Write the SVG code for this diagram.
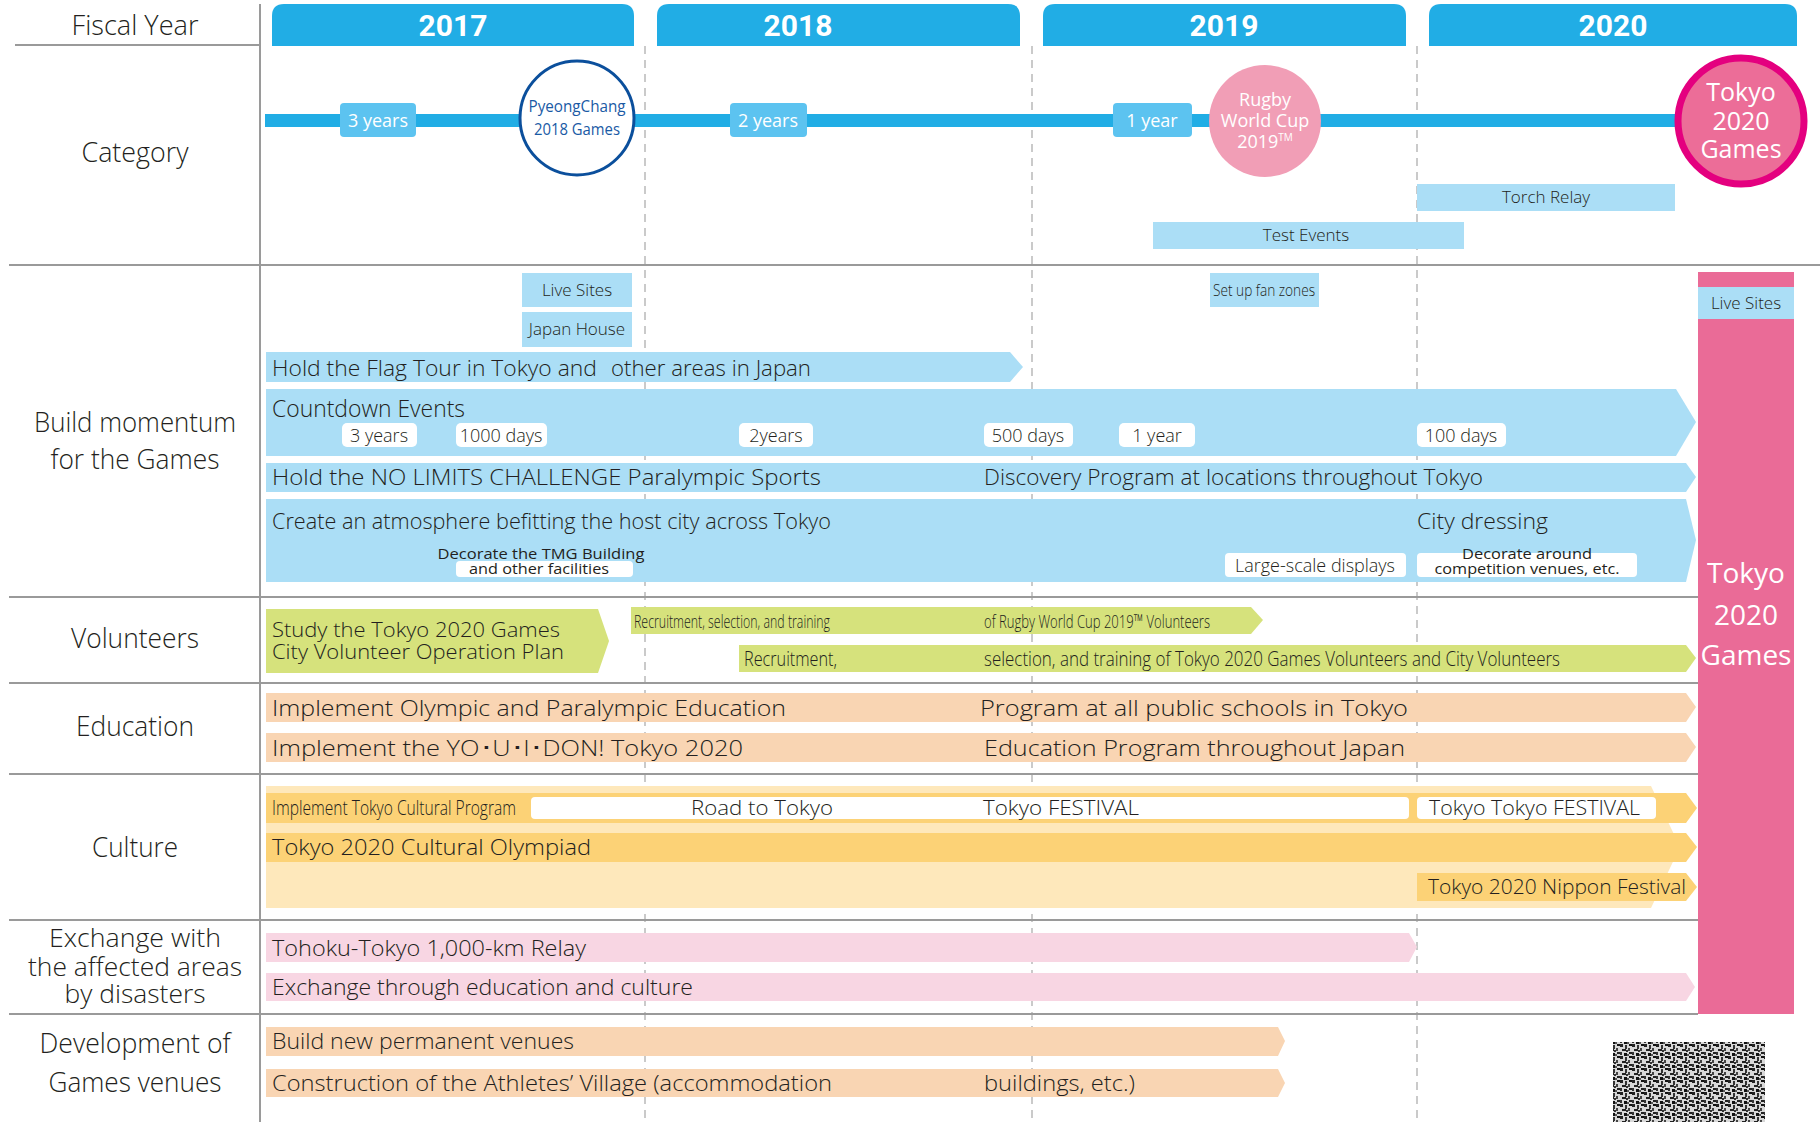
<svg xmlns="http://www.w3.org/2000/svg" width="1820" height="1122" viewBox="0 0 1820 1122">
<style>
.t{font-family:"Open Sans","Noto Sans",sans-serif;font-weight:300;fill:#231f20}
.cat{font-size:27px;text-anchor:middle}
.bar{font-size:22px}
.sm{font-size:17px}
.lab{font-size:18px;text-anchor:middle}
.mid{text-anchor:middle}
.rg{font-weight:400}
.yr{font-family:Roboto,"Liberation Sans",sans-serif;font-weight:bold;font-size:30px;fill:#fff;text-anchor:middle}
.tab{fill:#21ade5}
.lb{fill:#abdef6}
.gr{fill:#d6e27c}
.pe{fill:#f9d5b3}
.cu{fill:#fcd276}
.cl{fill:#fee8bb}
.pk{fill:#f8d6e3}
.wb{fill:#fff}
.sep{stroke:#9a9a9a;stroke-width:2;fill:none}
.dash{stroke:#bdbdbd;stroke-width:1.6;stroke-dasharray:8 6;fill:none}
.yl{fill:#5cc3f0}
.wt{fill:#fff}
</style>
<defs>
<pattern id="qr" width="12" height="12" patternUnits="userSpaceOnUse">
<rect width="12" height="12" fill="#d8d8d8"/>
<rect x="0" y="0" width="3" height="3" fill="#222"/>
<rect x="5" y="1" width="2" height="4" fill="#333"/>
<rect x="9" y="0" width="3" height="2" fill="#111"/>
<rect x="2" y="5" width="4" height="2" fill="#222"/>
<rect x="8" y="4" width="2" height="3" fill="#444"/>
<rect x="0" y="8" width="2" height="3" fill="#333"/>
<rect x="4" y="9" width="3" height="3" fill="#111"/>
<rect x="9" y="8" width="3" height="2" fill="#222"/>
<rect x="7" y="10" width="2" height="2" fill="#555"/>
<rect x="6" y="6" width="2" height="2" fill="#333"/>
</pattern>
</defs>
<rect width="1820" height="1122" fill="#fff"/>

<g id="grid">
<line class="dash" x1="645" y1="46" x2="645" y2="1122"/>
<line class="dash" x1="1032" y1="46" x2="1032" y2="1122"/>
<line class="dash" x1="1417" y1="46" x2="1417" y2="1122"/>
<line class="sep" x1="260" y1="4" x2="260" y2="1122"/>
<line class="sep" x1="15" y1="45" x2="260" y2="45"/>
<line class="sep" x1="9" y1="265" x2="1820" y2="265"/>
<line class="sep" x1="9" y1="597" x2="1698" y2="597"/>
<line class="sep" x1="9" y1="683" x2="1698" y2="683"/>
<line class="sep" x1="9" y1="774" x2="1698" y2="774"/>
<line class="sep" x1="9" y1="920" x2="1698" y2="920"/>
<line class="sep" x1="9" y1="1014" x2="1698" y2="1014"/>
</g>

<g id="labels">
<text class="t cat" x="135" y="35" textLength="127" lengthAdjust="spacingAndGlyphs">Fiscal Year</text>
<text class="t cat" x="135" y="162" textLength="107" lengthAdjust="spacingAndGlyphs">Category</text>
<text class="t cat" x="135" y="432" textLength="202" lengthAdjust="spacingAndGlyphs">Build momentum</text>
<text class="t cat" x="135" y="469" textLength="169" lengthAdjust="spacingAndGlyphs">for the Games</text>
<text class="t cat" x="135" y="648" textLength="128" lengthAdjust="spacingAndGlyphs">Volunteers</text>
<text class="t cat" x="135" y="736" textLength="118" lengthAdjust="spacingAndGlyphs">Education</text>
<text class="t cat" x="135" y="857" textLength="86" lengthAdjust="spacingAndGlyphs">Culture</text>
<text class="t cat" x="135" y="947" style="font-size:25px" textLength="172" lengthAdjust="spacingAndGlyphs">Exchange with</text>
<text class="t cat" x="135" y="976" style="font-size:25px" textLength="214" lengthAdjust="spacingAndGlyphs">the affected areas</text>
<text class="t cat" x="135" y="1003" style="font-size:25px" textLength="141" lengthAdjust="spacingAndGlyphs">by disasters</text>
<text class="t cat" x="135" y="1053" textLength="191" lengthAdjust="spacingAndGlyphs">Development of</text>
<text class="t cat" x="135" y="1092" textLength="173" lengthAdjust="spacingAndGlyphs">Games venues</text>
</g>

<g id="year-2017"><path class="tab" d="M272 46V16Q272 4 284 4H622Q634 4 634 16V46Z"/><text class="yr" x="453" y="36">2017</text></g>
<g id="year-2018"><path class="tab" d="M657 46V16Q657 4 669 4H1008Q1020 4 1020 16V46Z"/><text class="yr" x="798" y="36">2018</text></g>
<g id="year-2019"><path class="tab" d="M1043 46V16Q1043 4 1055 4H1394Q1406 4 1406 16V46Z"/><text class="yr" x="1224" y="36">2019</text></g>
<g id="year-2020"><path class="tab" d="M1429 46V16Q1429 4 1441 4H1785Q1797 4 1797 16V46Z"/><text class="yr" x="1613" y="36">2020</text></g>

<g id="connectors">
<rect x="265" y="114" width="1420" height="13" fill="#21ade5"/>
</g>

<g id="mark-3years"><rect class="yl" x="340" y="103" width="76" height="34" rx="4"/><text class="t wt lab rg" x="378" y="127">3 years</text></g>
<g id="mark-2years"><rect class="yl" x="730" y="103" width="77" height="34" rx="4"/><text class="t wt lab rg" x="768" y="127">2 years</text></g>
<g id="mark-1year"><rect class="yl" x="1113" y="103" width="79" height="34" rx="4"/><text class="t wt lab rg" x="1152" y="127">1 year</text></g>

<g id="pyeongchang">
<circle cx="577" cy="118" r="57" fill="#fff" stroke="#0b4f9c" stroke-width="3"/>
<text class="t mid rg" x="577" y="112" style="font-size:16px;fill:#1a5aa5" textLength="97" lengthAdjust="spacingAndGlyphs">PyeongChang</text>
<text class="t mid rg" x="577" y="135" style="font-size:16px;fill:#1a5aa5" textLength="86" lengthAdjust="spacingAndGlyphs">2018 Games</text>
</g>
<g id="rugby">
<circle cx="1265" cy="121" r="56" fill="#f19eb6"/>
<text class="t mid wt rg" x="1265" y="106" style="font-size:18px">Rugby</text>
<text class="t mid wt rg" x="1265" y="127" style="font-size:18px">World Cup</text>
<text class="t mid wt rg" x="1265" y="148" style="font-size:18px">2019<tspan style="font-size:10px" dy="-7">TM</tspan></text>
</g>
<g id="tokyo-games-circle">
<circle cx="1741" cy="121" r="63" fill="#ec6d98" stroke="#e4007f" stroke-width="7"/>
<text class="t mid wt rg" x="1741" y="101" style="font-size:25px">Tokyo</text>
<text class="t mid wt rg" x="1741" y="130" style="font-size:25px">2020</text>
<text class="t mid wt rg" x="1741" y="158" style="font-size:25px">Games</text>
</g>

<g id="torch-relay"><rect class="lb" x="1417" y="184" width="258" height="27"/><text class="t sm mid" x="1546" y="203">Torch Relay</text></g>
<g id="test-events"><rect class="lb" x="1153" y="222" width="311" height="27"/><text class="t sm mid" x="1306" y="241">Test Events</text></g>

<g id="live-sites-2017"><rect class="lb" x="522" y="273" width="110" height="34"/><text class="t sm mid" x="577" y="296">Live Sites</text></g>
<g id="japan-house"><rect class="lb" x="522" y="312" width="110" height="35"/><text class="t sm mid" x="577" y="335">Japan House</text></g>
<g id="fan-zones"><rect class="lb" x="1210" y="273" width="109" height="34"/><text class="t sm mid" x="1264" y="296" textLength="102" lengthAdjust="spacingAndGlyphs">Set up fan zones</text></g>

<g id="flag-tour">
<path class="lb" d="M266 352H1010L1023 367L1010 382H266Z"/>
<text class="t bar" x="272" y="376" textLength="325" lengthAdjust="spacingAndGlyphs">Hold the Flag Tour  in Tokyo and</text>
<text class="t bar" x="611" y="376" textLength="200" lengthAdjust="spacingAndGlyphs">other areas in Japan</text>
</g>

<g id="countdown">
<path class="lb" d="M266 389H1676L1696 422L1676 456H266Z"/>
<text class="t" x="272" y="417" style="font-size:23px" textLength="193" lengthAdjust="spacingAndGlyphs">Countdown Events</text>
<rect class="wb" x="342" y="423" width="75" height="24" rx="5"/><text class="t lab" x="379" y="442">3 years</text>
<rect class="wb" x="456" y="423" width="91" height="24" rx="5"/><text class="t lab" x="501" y="442">1000 days</text>
<rect class="wb" x="739" y="423" width="74" height="24" rx="5"/><text class="t lab" x="776" y="442">2years</text>
<rect class="wb" x="984" y="423" width="89" height="24" rx="5"/><text class="t lab" x="1028" y="442">500 days</text>
<rect class="wb" x="1119" y="423" width="76" height="24" rx="5"/><text class="t lab" x="1157" y="442">1 year</text>
<rect class="wb" x="1417" y="423" width="89" height="24" rx="5"/><text class="t lab" x="1461" y="442">100 days</text>
</g>

<g id="no-limits">
<path class="lb" d="M266 463H1686L1696 477L1686 492H266Z"/>
<text class="t bar" x="272" y="485" textLength="549" lengthAdjust="spacingAndGlyphs">Hold the NO LIMITS CHALLENGE Paralympic Sports</text>
<text class="t bar" x="984" y="485" textLength="499" lengthAdjust="spacingAndGlyphs">Discovery Program at locations throughout Tokyo</text>
</g>

<g id="atmosphere">
<path class="lb" d="M266 499H1686L1696 540L1686 582H266Z"/>
<text class="t bar" x="272" y="529" textLength="559" lengthAdjust="spacingAndGlyphs">Create an atmosphere befitting the host city across Tokyo</text>
<text class="t bar" x="1417" y="529" textLength="131" lengthAdjust="spacingAndGlyphs">City dressing</text>
<rect class="wb" x="456" y="561" width="177" height="16" rx="4"/>
<text class="t mid rg" x="541" y="559" style="font-size:14px" textLength="207" lengthAdjust="spacingAndGlyphs">Decorate the TMG Building</text>
<text class="t mid rg" x="539" y="574" style="font-size:14px" textLength="140" lengthAdjust="spacingAndGlyphs">and other facilities</text>
<rect class="wb" x="1225" y="553" width="181" height="24" rx="4"/>
<text class="t mid" x="1315" y="572" style="font-size:18px">Large-scale displays</text>
<rect class="wb" x="1417" y="553" width="220" height="24" rx="4"/>
<text class="t mid rg" x="1527" y="559" style="font-size:14px" textLength="130" lengthAdjust="spacingAndGlyphs">Decorate around</text>
<text class="t mid rg" x="1527" y="574" style="font-size:14px" textLength="185" lengthAdjust="spacingAndGlyphs">competition venues, etc.</text>
</g>

<g id="study-plan">
<path class="gr" d="M266 609H598L609 641L598 673H266Z"/>
<text class="t" x="272" y="637" style="font-size:21px" textLength="288" lengthAdjust="spacingAndGlyphs">Study the Tokyo 2020 Games</text>
<text class="t" x="272" y="659" style="font-size:21px" textLength="292" lengthAdjust="spacingAndGlyphs">City Volunteer Operation Plan</text>
</g>
<g id="rwc-volunteers">
<path class="gr" d="M631 607H1251L1263 620L1251 634H631Z"/>
<text class="t" x="634" y="628" style="font-size:19px" textLength="196" lengthAdjust="spacingAndGlyphs">Recruitment, selection, and training</text>
<text class="t" x="984" y="628" style="font-size:19px" textLength="226" lengthAdjust="spacingAndGlyphs">of Rugby World Cup 2019™ Volunteers</text>
</g>
<g id="tokyo-volunteers">
<path class="gr" d="M739 645H1686L1696 658L1686 672H739Z"/>
<text class="t" x="744" y="666" style="font-size:20px" textLength="93" lengthAdjust="spacingAndGlyphs">Recruitment,</text>
<text class="t" x="984" y="666" style="font-size:20px" textLength="576" lengthAdjust="spacingAndGlyphs">selection, and training of Tokyo 2020 Games Volunteers and City Volunteers</text>
</g>

<g id="education-1">
<path class="pe" d="M266 693H1686L1696 707L1686 722H266Z"/>
<text class="t bar" x="272" y="716" textLength="514" lengthAdjust="spacingAndGlyphs">Implement Olympic and Paralympic Education</text>
<text class="t bar" x="980" y="716" textLength="428" lengthAdjust="spacingAndGlyphs">Program at all public schools in Tokyo</text>
</g>
<g id="education-2">
<path class="pe" d="M266 733H1686L1696 747L1686 762H266Z"/>
<text class="t bar" x="272" y="756" textLength="471" lengthAdjust="spacingAndGlyphs">Implement the YO･U･I･DON! Tokyo 2020</text>
<text class="t bar" x="984" y="756" textLength="421" lengthAdjust="spacingAndGlyphs">Education Program throughout Japan</text>
</g>

<g id="culture-bg">
<path class="cl" d="M266 786H1651L1680 847L1651 908H266Z"/>
</g>
<g id="cultural-program">
<path class="cu" d="M266 793H1686L1697 808L1686 823H266Z"/>
<text class="t" x="272" y="815" style="font-size:20px" textLength="244" lengthAdjust="spacingAndGlyphs">Implement Tokyo Cultural Program</text>
<rect class="wb" x="531" y="797" width="878" height="22" rx="4"/>
<text class="t" x="691" y="815" style="font-size:21px" textLength="142" lengthAdjust="spacingAndGlyphs">Road to Tokyo</text>
<text class="t" x="983" y="815" style="font-size:21px" textLength="156" lengthAdjust="spacingAndGlyphs">Tokyo FESTIVAL</text>
<rect class="wb" x="1417" y="797" width="239" height="22" rx="4"/>
<text class="t" x="1429" y="815" style="font-size:21px" textLength="211" lengthAdjust="spacingAndGlyphs">Tokyo Tokyo FESTIVAL</text>
</g>
<g id="cultural-olympiad">
<path class="cu" d="M266 833H1686L1697 847L1686 862H266Z"/>
<text class="t bar" x="272" y="855" textLength="319" lengthAdjust="spacingAndGlyphs">Tokyo 2020 Cultural Olympiad</text>
</g>
<g id="nippon-festival">
<path class="cu" d="M1417 873H1686L1697 887L1686 901H1417Z"/>
<text class="t" x="1428" y="894" style="font-size:21px" textLength="258" lengthAdjust="spacingAndGlyphs">Tokyo 2020  Nippon Festival</text>
</g>

<g id="tohoku-relay">
<path class="pk" d="M266 933H1409L1417 947L1409 962H266Z"/>
<text class="t bar" x="272" y="956" textLength="314" lengthAdjust="spacingAndGlyphs">Tohoku-Tokyo 1,000-km Relay</text>
</g>
<g id="exchange-culture">
<path class="pk" d="M266 973H1686L1695 987L1686 1001H266Z"/>
<text class="t bar" x="272" y="995" textLength="421" lengthAdjust="spacingAndGlyphs">Exchange through education and culture</text>
</g>

<g id="new-venues">
<path class="pe" d="M266 1027H1278L1285 1041L1278 1056H266Z"/>
<text class="t bar" x="272" y="1049" textLength="302" lengthAdjust="spacingAndGlyphs">Build new permanent venues</text>
</g>
<g id="athletes-village">
<path class="pe" d="M266 1069H1278L1285 1083L1278 1097H266Z"/>
<text class="t bar" x="272" y="1091" textLength="560" lengthAdjust="spacingAndGlyphs">Construction of the Athletes’ Village (accommodation</text>
<text class="t bar" x="984" y="1091" textLength="151" lengthAdjust="spacingAndGlyphs">buildings, etc.)</text>
</g>

<g id="tokyo-games-column">
<rect x="1698" y="272" width="96" height="742" fill="#ea6b97"/>
<rect class="lb" x="1698" y="287" width="96" height="32"/>
<text class="t sm mid" x="1746" y="309">Live Sites</text>
<text class="t mid wt rg" x="1746" y="583" style="font-size:28px">Tokyo</text>
<text class="t mid wt rg" x="1746" y="625" style="font-size:28px">2020</text>
<text class="t mid wt rg" x="1746" y="665" style="font-size:28px">Games</text>
</g>

<g id="qr-code">
<rect x="1613" y="1042" width="152" height="80" fill="url(#qr)"/>
</g>
</svg>
